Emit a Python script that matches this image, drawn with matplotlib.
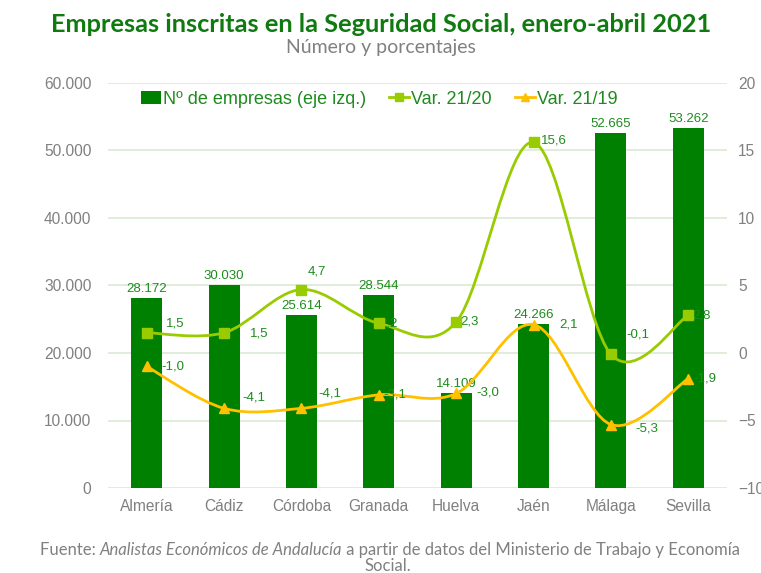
import numpy as np
import matplotlib
matplotlib.use("Agg")
import matplotlib.pyplot as plt
from matplotlib.path import Path
from matplotlib.patches import PathPatch, Patch
from matplotlib.lines import Line2D

# ──────────────────────────────────────────────
# DATEN
# ──────────────────────────────────────────────
provincias = ["Almería", "Cádiz", "Córdoba", "Granada", "Huelva", "Jaén", "Málaga", "Sevilla"]
empresas = [28172, 30030, 25614, 28544, 14109, 24266, 52665, 53262]
var_21_20 = [1.5, 1.5, 4.7, 2.2, 2.3, 15.6, -0.1, 2.8]
var_21_19 = [-1.0, -4.1, -4.1, -3.1, -3.0, 2.1, -5.3, -1.9]

left_ticks = [0, 10000, 20000, 30000, 40000, 50000, 60000]
right_ticks = [-10, -5, 0, 5, 10, 15, 20]

# Label-Versatz (Pixel) der Datenbeschriftungen der Linien
off_20 = [(29, 9), (35, -1), (15, 18), (10, 0), (13, 0), (20, 2), (27, 20), (13, 0)]
off_19 = [(26, 0), (30, 11), (28, 15), (16, 0), (32, 1), (35, 0), (36, -4), (17, 0)]

GREEN_BAR = "#008000"
GREEN_LINE = "#99CC00"
AMBER = "#FFC000"
LABEL_GREEN = "#1E8B1E"
GRID = "#D9EAD3"
GRAY = "#808080"

plt.rcParams["font.family"] = ["Liberation Sans", "DejaVu Sans"]


def fmt_miles(v):
    return f"{v:,.0f}".replace(",", ".")


def fmt_dec(v):
    return f"{v:.1f}".replace(".", ",")


def smooth_path(x, y):
    """Bezier-Pfad durch die Punkte (Excel-artige Glättung)."""
    pts = np.column_stack([x, y]).astype(float)
    n = len(pts)
    verts = [pts[0]]
    codes = [Path.MOVETO]
    for i in range(n - 1):
        p0 = pts[i - 1] if i > 0 else pts[i]
        p1 = pts[i]
        p2 = pts[i + 1]
        p3 = pts[i + 2] if i + 2 < n else pts[i + 1]
        c1 = p1 + (p2 - p0) / 6.0
        c2 = p2 - (p3 - p1) / 6.0
        verts += [c1, c2, p2]
        codes += [Path.CURVE4] * 3
    return Path(verts, codes)


# ──────────────────────────────────────────────
# PLOT
# ──────────────────────────────────────────────
fig = plt.figure(figsize=(7.61, 5.73), dpi=100)
ax = fig.add_axes([108 / 761, 1 - 488 / 573, (727 - 108) / 761, (488 - 83) / 573])
ax2 = ax.twinx()

x = np.arange(len(provincias))
ax.bar(x, empresas, width=0.4, color=GREEN_BAR, zorder=2)
for xi, v in zip(x, empresas):
    ax.annotate(fmt_miles(v), (xi, v), xytext=(0, 3), textcoords="offset pixels",
                ha="center", va="bottom", fontsize=9.5, color=LABEL_GREEN)

ax.set_ylim(0, 60000)
ax.set_xlim(-0.5, len(provincias) - 0.5)
ax.set_yticks(left_ticks)
ax.set_yticklabels([fmt_miles(t) for t in left_ticks])
ax.set_xticks(x)
ax.set_xticklabels(provincias, fontsize=11.8)
ax.grid(axis="y", color=GRID, lw=1.2, zorder=0)
ax.set_axisbelow(True)
ax.tick_params(axis="both", length=0, labelsize=11.2, labelcolor=GRAY)
ax.tick_params(axis="x", pad=8)
ax.tick_params(axis="y", pad=12)
for ax_ in (ax, ax2):
    for s in ax_.spines.values():
        s.set_visible(False)

ax2.set_ylim(-10, 20)
ax2.set_yticks(right_ticks)
ax2.tick_params(axis="y", length=0, labelsize=11.2, labelcolor=GRAY, pad=8)

for serie, col, mk, ms, offs in [(var_21_20, GREEN_LINE, "s", 7, off_20),
                                  (var_21_19, AMBER, "^", 7, off_19)]:
    ax2.add_patch(PathPatch(smooth_path(x, serie), fill=False, edgecolor=col,
                            lw=2, zorder=3))
    ax2.plot(x, serie, ls="none", marker=mk, ms=ms, color=col, zorder=5)
    for xi, v, (dx, dy) in zip(x, serie, offs):
        ax2.annotate(fmt_dec(v), (xi, v), xytext=(dx, dy), textcoords="offset pixels",
                     ha="center", va="center", fontsize=9.5, color=LABEL_GREEN, zorder=4)

# Legende
handles = [
    Patch(facecolor=GREEN_BAR, edgecolor="none"),
    Line2D([], [], color=GREEN_LINE, lw=2, marker="s", ms=6),
    Line2D([], [], color=AMBER, lw=2, marker="^", ms=6),
]
leg = fig.legend(handles, ["Nº de empresas (eje izq.)", "Var. 21/20", "Var. 21/19"],
                 loc="center", bbox_to_anchor=(379 / 761, 1 - 99 / 573), ncol=3,
                 frameon=False, fontsize=13, handlelength=1.1, handletextpad=0.1,
                 columnspacing=1.3, borderpad=0, borderaxespad=0)
for t in leg.get_texts():
    t.set_color(LABEL_GREEN)

# Titel
fig.text(381 / 761, 1 - 24 / 573, "Empresas inscritas en la Seguridad Social, enero-abril 2021",
         ha="center", va="center", fontsize=18.3, fontweight="bold", color="#0F7A0F",
         family="Lato")
fig.text(381 / 761, 1 - 48 / 573, "Número y porcentajes", ha="center", va="center",
         fontsize=14, color=GRAY, family="Lato")

# Quelle
t1 = fig.text(40 / 761, 1 - 550 / 573, "Fuente: ", ha="left", va="center",
              fontsize=12, color=GRAY, family="Lato")
t2 = ax.annotate("Analistas Económicos de Andalucía", xy=(1, 0), xycoords=t1,
                 ha="left", va="bottom", fontsize=12, color=GRAY, family="Lato",
                 style="italic", annotation_clip=False)
ax.annotate(" a partir de datos del Ministerio de Trabajo y Economía", xy=(1, 0),
            xycoords=t2, ha="left", va="bottom", fontsize=12, color=GRAY,
            family="Lato", annotation_clip=False)
fig.text(388 / 761, 1 - 566 / 573, "Social.", ha="center", va="center",
         fontsize=12, color=GRAY, family="Lato")

fig.savefig("out.png", dpi=100)
